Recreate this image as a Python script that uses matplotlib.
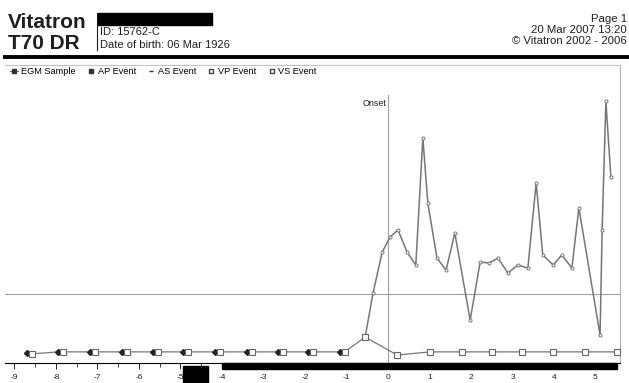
import numpy as np
import matplotlib
matplotlib.use("Agg")
import matplotlib.pyplot as plt
from matplotlib.lines import Line2D
from matplotlib.patches import Rectangle

plt.rcParams["font.family"] = ["Liberation Sans", "DejaVu Sans"]

W, H = 629, 383

# EGM samples around the episode onset (time in s relative to onset)
egm_t = [-0.55, -0.36, -0.14, 0.05, 0.24, 0.46, 0.67, 0.84, 0.96, 1.18,
         1.40, 1.61, 1.98, 2.22, 2.43, 2.65, 2.89, 3.13, 3.37, 3.57,
         3.73, 3.98, 4.19, 4.43, 4.60, 5.11, 5.16, 5.25, 5.37]
egm_v = [0.91, 2.46, 3.89, 4.42, 4.67, 3.89, 3.44, 7.89, 5.61, 3.68,
         3.26, 4.56, 1.51, 3.54, 3.51, 3.68, 3.16, 3.44, 3.33, 6.32,
         3.79, 3.44, 3.79, 3.33, 5.44, 0.98, 4.67, 9.19, 6.53]

# paced atrial events before onset
ap_t = [-8.70, -7.95, -7.18, -6.41, -5.66, -4.94, -4.17, -3.40, -2.65, -1.93, -1.16]
ap_v = [0.36, 0.39, 0.39, 0.39, 0.39, 0.39, 0.39, 0.39, 0.39, 0.39, 0.39]

# sensed ventricular events
vs_t = [-8.58, -7.83, -7.06, -6.29, -5.54, -4.82, -4.05, -3.28, -2.53, -1.81,
        -1.04, -0.55, 0.22, 1.01, 1.78, 2.51, 3.23, 3.98, 4.75, 5.52]
vs_v = [0.32, 0.39, 0.39, 0.39, 0.39, 0.39, 0.39, 0.39, 0.39, 0.39,
        0.39, 0.91, 0.28, 0.39, 0.39, 0.39, 0.39, 0.39, 0.39, 0.39]

ref_level = 2.42
onset_t = 0.0
xticks = list(range(-9, 6))

LINE = "#767676"
TEXT = "#1e1e1e"


def px(x, y):
    """pixel position -> figure fraction"""
    return x / W, 1 - y / H


fig = plt.figure(figsize=(W / 100, H / 100), dpi=100)

# header
fig.text(*px(8, 28), "Vitatron", fontsize=15, fontweight="bold", color=TEXT, va="baseline")
fig.text(*px(8, 49), "T70 DR", fontsize=15, fontweight="bold", color=TEXT, va="baseline")
fig.add_artist(Line2D([97 / W, 97 / W], [1 - 13 / H, 1 - 50 / H], color=TEXT, lw=0.8))
fig.patches.append(Rectangle(px(98, 25), 114 / W, 12 / H, transform=fig.transFigure,
                             color="black", zorder=5))
fig.text(*px(100, 35), "ID: 15762-C", fontsize=8, color=TEXT, va="baseline")
fig.text(*px(100, 48), "Date of birth: 06 Mar 1926", fontsize=8, color=TEXT, va="baseline")
fig.text(*px(627, 22), "Page 1", fontsize=8.2, color=TEXT, ha="right", va="baseline")
fig.text(*px(627, 33), "20 Mar 2007 13:20", fontsize=8.2, color=TEXT, ha="right", va="baseline")
fig.text(*px(627, 44), "\u00a9 Vitatron 2002 - 2006", fontsize=8.2, color=TEXT, ha="right", va="baseline")
fig.add_artist(Line2D([5 / W, 1.0], [1 - 56.5 / H] * 2, color="black", lw=2.8))

# plot area
x0, y0 = px(5, 363)
x1, y1 = px(620, 65)
ax = fig.add_axes([x0, y0, x1 - x0, y1 - y0])
ax.set_xlim((5 - 388) / 41.5, (620 - 388) / 41.5)
ax.set_ylim(0, (363 - 65) / 28.5)

ax.axhline(ref_level, color="#a0a0a0", lw=0.8)
ax.axvline(onset_t, ymax=0.9, color="#a0a0a0", lw=0.8)
ax.text(onset_t - 0.03, 9.12, "Onset", fontsize=6.5, color=TEXT, ha="right", va="center")

ax.plot(egm_t, egm_v, color=LINE, lw=1.1, marker="o", ms=2.2,
        mfc="white", mec=LINE, mew=0.7, zorder=3)

ev_t = np.concatenate([ap_t, vs_t])
ev_v = np.concatenate([ap_v, vs_v])
order = np.argsort(ev_t)
ax.plot(ev_t[order], ev_v[order], color=LINE, lw=0.9, zorder=2)
ax.plot(ap_t, ap_v, ls="none", marker="D", ms=3, color="#222222", zorder=4)
ax.plot(vs_t, vs_v, ls="none", marker="s", ms=3.8, mfc="white", mec="#666666",
        mew=0.8, zorder=4)

ax.set_xticks(xticks)
ax.set_xticks(np.arange(-9, 5.6, 0.5), minor=True)
ax.set_xticklabels([str(t) for t in xticks])
ax.tick_params(axis="x", which="major", length=4, width=0.7, labelsize=6,
               colors=TEXT, pad=4)
ax.tick_params(axis="x", which="minor", length=3, width=0.6, colors=TEXT)
ax.set_yticks([])
ax.spines["left"].set_visible(False)
ax.spines["top"].set_color("#c4c4c4")
ax.spines["right"].set_color("#b0b0b0")
ax.spines["top"].set_linewidth(0.8)
ax.spines["bottom"].set_linewidth(0.8)

handles = [
    Line2D([], [], color=LINE, lw=0.8, marker="s", ms=2.5, mfc="#333333", mec="#333333"),
    Line2D([], [], ls="none", marker="s", ms=2.8, color="#333333"),
    Line2D([], [], ls="none", marker="_", ms=3.5, color="#333333"),
    Line2D([], [], ls="none", marker="s", ms=3, mfc="white", mec="#444444"),
    Line2D([], [], ls="none", marker="s", ms=3, mfc="white", mec="#444444"),
]
labels = ["EGM Sample", "AP Event", "AS Event", "VP Event", "VS Event"]
ax.legend(handles, labels, loc="upper left", bbox_to_anchor=(0.005, 1.0), ncol=5,
          frameon=False, fontsize=6.6, handlelength=0.9, handletextpad=0.3,
          columnspacing=1.2, borderaxespad=0.1, borderpad=0.1)

# blacked-out areas on the time axis
fig.patches.append(Rectangle(px(222, 369), 395 / W, 6 / H, transform=fig.transFigure,
                             color="black", zorder=5))
fig.patches.append(Rectangle(px(183, 383), 25 / W, 17 / H, transform=fig.transFigure,
                             color="black", zorder=5))

fig.savefig("out.png", dpi=100)
